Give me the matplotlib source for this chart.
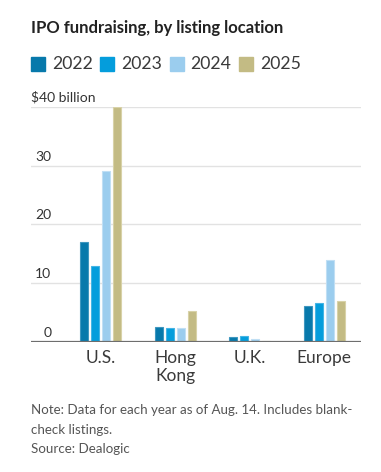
import numpy as np
import matplotlib.pyplot as plt
from matplotlib.patches import Rectangle

plt.rcParams['font.family'] = ['Lato', 'DejaVu Sans']

locations = ['U.S.', 'Hong\nKong', 'U.K.', 'Europe']
years = ['2022', '2023', '2024', '2025']
v2022 = [17.0, 2.6, 0.8, 6.2]
v2023 = [12.9, 2.4, 1.0, 6.7]
v2024 = [29.0, 2.4, 0.45, 13.9]
v2025 = [40.0, 5.3, 0.1, 6.9]
series = [v2022, v2023, v2024, v2025]
colors = ['#0779ab', '#049ddc', '#9bcdee', '#c3bb84']
edges = ['#3f97bf', '#44b4e4', '#c0dff4', '#d8d2a8']
yticks = [0, 10, 20, 30]

W, H = 381, 472
fig = plt.figure(figsize=(W / 100, H / 100), dpi=100)

ax = fig.add_axes([31 / W, 1 - 342 / H, 330 / W, (342 - 106.7) / H])
x = np.arange(len(locations))
step = 0.1477
for i, vals in enumerate(series):
    ax.bar(x + (i - 1.5) * step, vals, width=0.107, color=colors[i],
           edgecolor=edges[i], linewidth=0.8, zorder=3)

ax.set_xlim(-0.933, 3.496)
ax.set_ylim(0, 40)
for t in yticks[1:] + [40]:
    ax.axhline(t, color='#e2e2e2', lw=1.0, zorder=1)
ax.axhline(0, color='#6e6e6e', lw=1.6, zorder=4)
for s in ax.spines.values():
    s.set_visible(False)
ax.set_yticks([])
ax.set_xticks(x)
ax.set_xticklabels(locations, fontsize=12.5, color='#3a3a3a', linespacing=1.15)
ax.tick_params(axis='x', length=0, pad=6)

for t in yticks:
    ax.text(0.062, t + 0.5, str(t), transform=ax.get_yaxis_transform(),
            ha='right', va='bottom', fontsize=10, color='#333333')
ax.text(0.0, 40.5, '$40 billion', transform=ax.get_yaxis_transform(),
        ha='left', va='bottom', fontsize=10, color='#333333')

# title
fig.text(31 / W, 1 - 28 / H, 'IPO fundraising, by listing location',
         ha='left', va='center', fontsize=12, fontweight='bold', color='#222222')

# legend
for i, yr in enumerate(years):
    x0 = 31 + i * 69.3
    fig.patches.append(Rectangle((x0 / W, 1 - 71 / H), 14 / W, 14 / H,
                                 transform=fig.transFigure, color=colors[i]))
    fig.text((x0 + 21) / W, 1 - 64 / H, yr, ha='left', va='center',
             fontsize=12.7, color='#3a3a3a')

# notes
note_lines = ['Note: Data for each year as of Aug. 14. Includes blank-',
              'check listings.', 'Source: Dealogic']
for k, line in enumerate(note_lines):
    fig.text(31 / W, 1 - (410 + 19.5 * k) / H, line,
             ha='left', va='center', fontsize=9.6, color='#555555')

fig.savefig('out.png', dpi=100, facecolor='white')
